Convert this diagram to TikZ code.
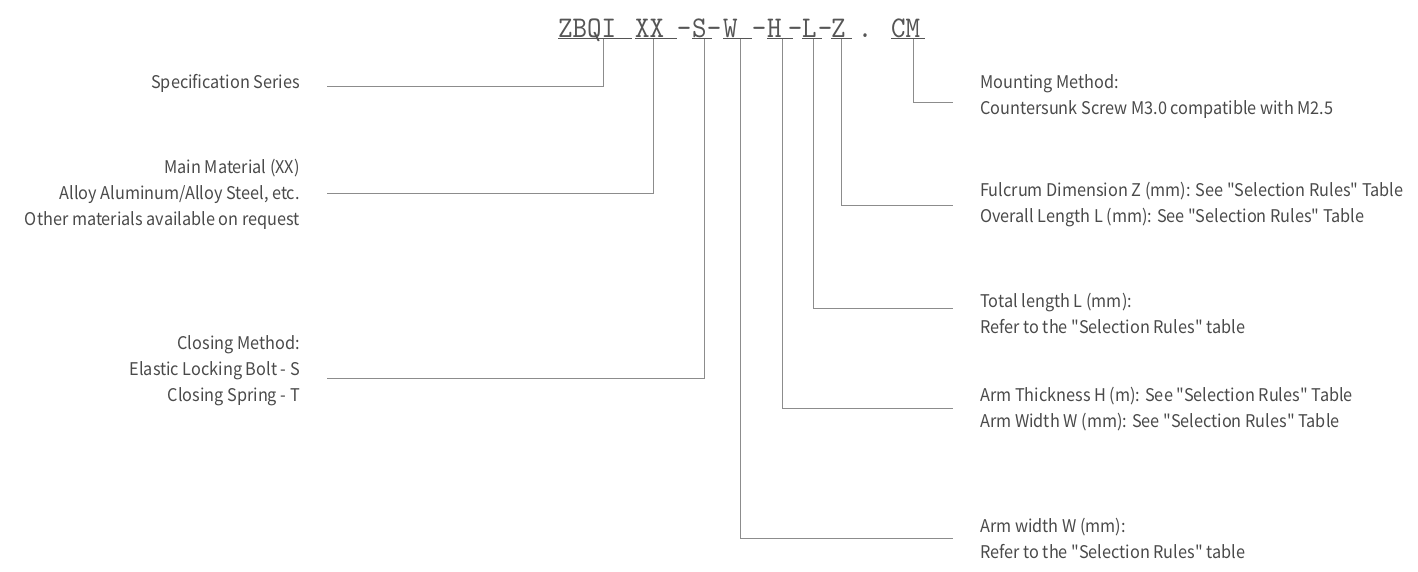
\documentclass[tikz,border=0pt]{standalone}
\usepackage{fontspec}
\setmainfont{Noto Sans CJK SC}
\newfontfamily\lblfont{Noto Sans CJK SC}[FakeStretch=0.93]
\newfontfamily\codefont{lmmono10-regular.otf}[FakeStretch=0.92]
\usepackage{xcolor}
\usepackage{tikz}
\usetikzlibrary{positioning, calc}
\definecolor{txtgray}{HTML}{4A4A4A}
\definecolor{linegray}{HTML}{8C8C8C}
\definecolor{codegray}{HTML}{555555}
\tikzset{
    seg/.style   = {font=\fontsize{30}{30}\selectfont\codefont, text=codegray,
                    inner xsep=0pt, inner ysep=1.5pt, text depth=0pt, anchor=base west, align=left},
    sepch/.style = {font=\fontsize{30}{30}\selectfont\codefont, text=codegray,
                    inner sep=0pt, anchor=base},
    lbl/.style   = {font=\fontsize{17.5}{26}\selectfont\lblfont, text=txtgray, inner sep=0pt},
    lblL/.style  = {lbl, anchor=east, align=right},
    lblR/.style  = {lbl, anchor=west, align=left},
    ul/.style    = {line width=0.9pt, codegray},
    lead/.style  = {line width=1pt, linegray},
}

\begin{document}
\begin{tikzpicture}[x=1pt, y=-1pt]
    \useasboundingbox (0,0) rectangle (1418,571);
    % model code
    \node[seg, text width=74pt] (ZBQI) at (558,37) {ZBQI};
    \node[seg, text width=42pt] (XX) at (635,37) {XX};
    \node[seg, text width=20pt] (S) at (692,37) {S};
    \node[seg, text width=29pt] (W) at (723,37) {W};
    \node[seg, text width=26pt] (H) at (767,37) {H};
    \node[seg, text width=20pt] (L) at (802,37) {L};
    \node[seg, text width=21pt] (Z) at (831,37) {Z};
    \node[seg, text width=34pt] (CM) at (891,37) {CM};
    \foreach \x [count=\i] in {684,714,759,795,825}
        \node[sepch] (dash\i) at (\x,37) {-};
    \node[sepch] (dot) at (865,37) {.};
    \foreach \s in {ZBQI,XX,S,W,H,L,Z,CM}
        \draw[ul] (\s.south west) -- (\s.south east);
    % left labels
    \node[lblL] (spec) at (300,83) {Specification Series};
    \node[lblL] (mat) at (300,194) {Main Material (XX)\\Alloy Aluminum/Alloy Steel, etc.\\Other materials available on request};
    \node[lblL] (close) at (300,371) {Closing Method:\\Elastic Locking Bolt - S\\Closing Spring - T};
    % right labels
    \node[lblR] (mount) at (980,96.5) {Mounting Method:\\Countersunk Screw M3.0 compatible with M2.5};
    \node[lblR] (fulc) at (980,205) {Fulcrum Dimension Z (mm): See "Selection Rules" Table\\Overall Length L (mm): See "Selection Rules" Table};
    \node[lblR] (total) at (980,313.5) {Total length L (mm):\\Refer to the "Selection Rules" table};
    \node[lblR] (armh) at (980,409.5) {Arm Thickness H (m): See "Selection Rules" Table\\Arm Width W (mm): See "Selection Rules" Table};
    \node[lblR] (armw) at (980,538.5) {Arm width W (mm):\\Refer to the "Selection Rules" table};
    % leaders
    \draw[lead] ([xshift=27pt,yshift=-3pt]spec.east) -| ([xshift=8pt]ZBQI.south);
    \draw[lead] ([xshift=27pt,yshift=1pt]mat.east) -| ([xshift=-3pt]XX.south);
    \draw[lead] ([xshift=27pt,yshift=-7pt]close.east) -| ([xshift=2pt]S.south);
    \draw[lead] ([xshift=5pt]CM.south) |- ([xshift=-27pt,yshift=-5.5pt]mount.west);
    \draw[lead] (Z.south) |- ([xshift=-27pt]fulc.west);
    \draw[lead] ([xshift=1pt]L.south) |- ([xshift=-27pt,yshift=5.5pt]total.west);
    \draw[lead] ([xshift=2pt]H.south) |- ([xshift=-27pt,yshift=1.5pt]armh.west);
    \draw[lead] ([xshift=2.5pt]W.south) |- ([xshift=-27pt]armw.west);
\end{tikzpicture}
\end{document}
